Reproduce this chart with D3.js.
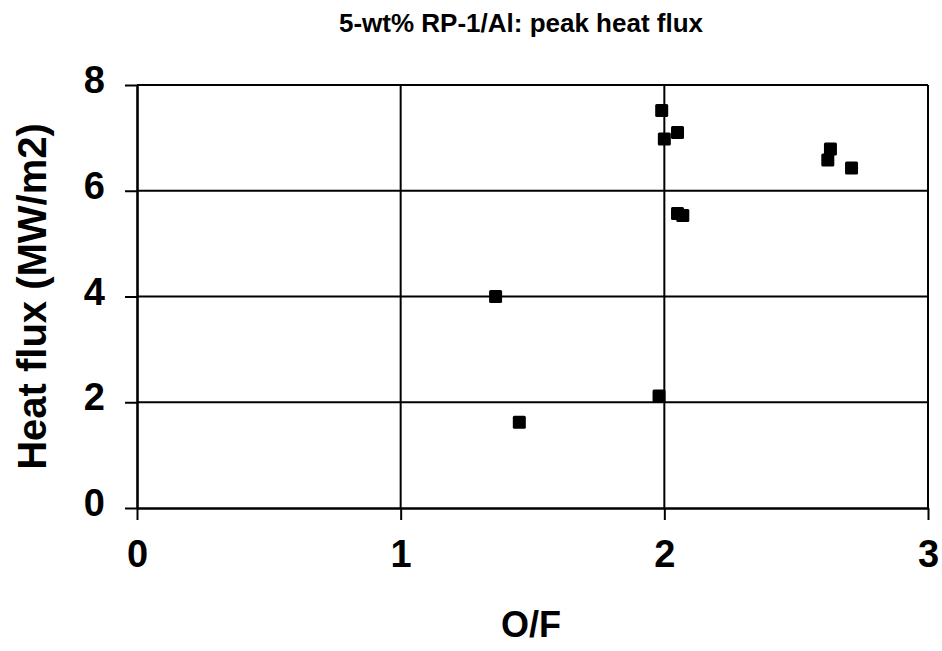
<!DOCTYPE html>
<html>
<head>
<meta charset="utf-8">
<script src="https://cdn.jsdelivr.net/npm/d3@7"></script>
<style>
  body { margin: 0; background: #fff; }
  text { font-family: "Liberation Sans", Arial, sans-serif; font-weight: bold; fill: #000; }
</style>
</head>
<body>
<div id="chart"></div>
<script>
// data
const ofRatio  = [1.36, 1.45, 1.98, 1.99, 2.00, 2.05, 2.05, 2.07, 2.62, 2.63, 2.71];
const heatFlux = [4.00, 1.62, 2.12, 7.52, 6.98, 7.10, 5.57, 5.53, 6.58, 6.79, 6.43];
const xTicks = [0, 1, 2, 3];
const yTicks = [0, 2, 4, 6, 8];

const width = 942, height = 651;
const margin = {top: 85, right: 14, bottom: 143, left: 137};

const svg = d3.select("#chart").append("svg")
  .attr("width", width).attr("height", height);

const x = d3.scaleLinear().domain([0, 3]).range([margin.left, width - margin.right]);
const y = d3.scaleLinear().domain([0, 8]).range([height - margin.bottom, margin.top]);

// grid lines
svg.append("g").selectAll("line")
  .data(yTicks.filter(d => d > 0))
  .join("line")
    .attr("x1", x(0)).attr("x2", x(3))
    .attr("y1", d => y(d)).attr("y2", d => y(d))
    .attr("stroke", "#000").attr("stroke-width", 2);

svg.append("g").selectAll("line")
  .data(xTicks.filter(d => d > 0))
  .join("line")
    .attr("x1", d => x(d)).attr("x2", d => x(d))
    .attr("y1", y(0)).attr("y2", y(8))
    .attr("stroke", "#000").attr("stroke-width", 2);

// axes
const xAxis = svg.append("g")
  .attr("transform", `translate(0,${y(0)})`)
  .call(d3.axisBottom(x).tickValues(xTicks).tickFormat(d3.format("d"))
    .tickSizeInner(12).tickSizeOuter(0).tickPadding(24));
const yAxis = svg.append("g")
  .attr("transform", `translate(${x(0)},0)`)
  .call(d3.axisLeft(y).tickValues(yTicks).tickFormat(d3.format("d"))
    .tickSizeInner(12).tickSizeOuter(0).tickPadding(20));

[xAxis, yAxis].forEach(g => {
  g.select(".domain").attr("stroke", "#000").attr("stroke-width", 2.6);
  g.selectAll(".tick line").attr("stroke", "#000").attr("stroke-width", 2);
  g.selectAll(".tick text")
    .attr("font-family", "Liberation Sans, Arial, sans-serif")
    .attr("font-weight", "bold")
    .attr("font-size", 38)
    .attr("fill", "#000");
});
yAxis.selectAll(".tick text").attr("dy", "0.2em");
xAxis.selectAll(".tick text").attr("dy", "0.6em");

// markers
const pts = ofRatio.map((v, i) => ({of: v, q: heatFlux[i]}));
const s = 13;
svg.append("g").selectAll("rect")
  .data(pts)
  .join("rect")
    .attr("x", d => x(d.of) - s / 2)
    .attr("y", d => y(d.q) - s / 2)
    .attr("width", s).attr("height", s)
    .attr("rx", 1.5)
    .attr("fill", "#000");

// titles
svg.append("text")
  .attr("x", 521).attr("y", 32)
  .attr("text-anchor", "middle")
  .attr("font-size", 26)
  .text("5-wt% RP-1/Al: peak heat flux");

svg.append("text")
  .attr("x", 531).attr("y", 637)
  .attr("text-anchor", "middle")
  .attr("font-size", 36)
  .text("O/F");

svg.append("text")
  .attr("transform", `translate(46,${(y(0) + y(8)) / 2}) rotate(-90)`)
  .attr("text-anchor", "middle")
  .attr("font-size", 40)
  .text("Heat flux (MW/m2)");
</script>
</body>
</html>
